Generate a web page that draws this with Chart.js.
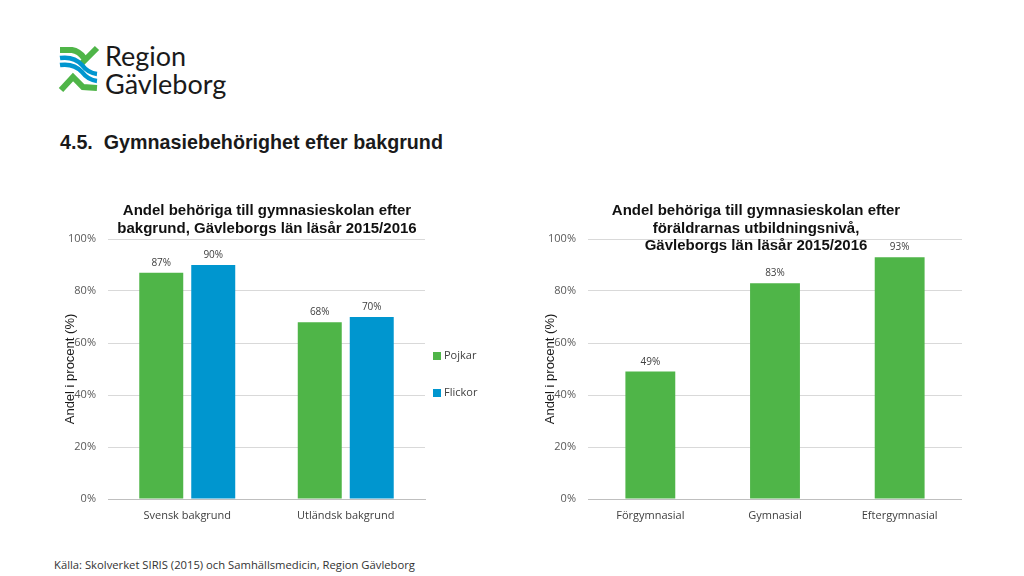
<!DOCTYPE html>
<html>
<head>
<meta charset="utf-8">
<script src="https://cdn.jsdelivr.net/npm/chart.js@4"></script>
<style>
html, body { margin: 0; padding: 0; background: #fff; width: 1024px; height: 576px; overflow: hidden; }
canvas, .txt, svg { position: absolute; }
.txt { white-space: nowrap; color: #1a1a1a; }
.title { font: bold 15px/17.5px "Liberation Sans", sans-serif; text-align: center; transform: translateX(-50%); color: #111; }
</style>
</head>
<body>
<svg style="left:0;top:0" width="110" height="110" fill="none">
	<path d="M60 50 L72 50 Q79 51 84 58 M82 63 L97 48" stroke="#4fb548" stroke-width="6"/>
	<path d="M60 58 Q74 56 82 65 Q88 73 97 74" stroke="#0096cf" stroke-width="4.5"/>
	<path d="M60 65 Q74 63 82 72 Q88 80 97 81" stroke="#0096cf" stroke-width="4.5"/>
	<path d="M61 90 L73 77 L83 87 L97 88" stroke="#4fb548" stroke-width="6"/>
</svg>
<div class="txt" style="left:105px;top:41px;font:27px/30px Lato,sans-serif">Region</div>
<div class="txt" style="left:105px;top:69px;font:27px/30px Lato,sans-serif">Gävleborg</div>
<div class="txt" style="left:60px;top:131px;font:bold 19.7px/22px 'Liberation Sans',sans-serif">4.5.&nbsp; Gymnasiebehörighet efter bakgrund</div>
<canvas id="chartBakgrund" width="422" height="350" style="left:58px;top:190px"></canvas>
<canvas id="chartUtbildning" width="424" height="350" style="left:538px;top:190px"></canvas>
<div class="txt title" style="left:267px;top:201px">Andel behöriga till gymnasieskolan efter<br>bakgrund, Gävleborgs län läsår 2015/2016</div>
<div class="txt title" style="left:756px;top:201px">Andel behöriga till gymnasieskolan efter<br>föräldrarnas utbildningsnivå,<br>Gävleborgs län läsår 2015/2016</div>
<div class="txt" style="left:54px;top:557px;font:11.25px/16px 'Open Sans',sans-serif;color:#333">Källa: Skolverket SIRIS (2015) och Samhällsmedicin, Region Gävleborg</div>
<script>
// values
const bakgrundLabels = ["Svensk bakgrund", "Utländsk bakgrund"];
const pojkar = [87, 68];
const flickor = [90, 70];

const utbildningLabels = ["Förgymnasial", "Gymnasial", "Eftergymnasial"];
const utbildning = [49, 83, 93];

const yTicks = [0, 20, 40, 60, 80, 100];

const green = "#4fb548";
const blue = "#0096cf";
const tickFont = { family: "'Open Sans', sans-serif", size: 11 };

Chart.defaults.animation = false;
Chart.defaults.responsive = false;

// percent labels above the bars
const barLabels = {
	id: "barLabels",
	afterDatasetsDraw(chart) {
		let ctx = chart.ctx;
		ctx.save();
		ctx.fillStyle = "#404040";
		ctx.font = "10px 'Open Sans', sans-serif";
		ctx.textAlign = "center";
		chart.data.datasets.forEach(function(ds, i) {
			chart.getDatasetMeta(i).data.forEach(function(bar, j) {
				ctx.fillText(ds.data[j] + "%", bar.x, bar.y - 7);
			});
		});
		ctx.restore();
	}
};

// built-in legend ties row spacing to its left padding, so draw it here
const wideLegend = {
	id: "wideLegend",
	afterDraw(chart) {
		let ctx = chart.ctx;
		let area = chart.chartArea;
		ctx.save();
		ctx.font = "11px 'Open Sans', sans-serif";
		ctx.textBaseline = "middle";
		chart.data.datasets.forEach(function(ds, i) {
			let y = area.top + 117 + i * 37;
			ctx.fillStyle = ds.backgroundColor;
			ctx.fillRect(area.right + 8, y - 4, 8, 8);
			ctx.fillStyle = "#404040";
			ctx.fillText(ds.label, area.right + 19, y);
		});
		ctx.restore();
	}
};

function buildScales(xHeight) {
	return {
		x: {
			grid: { display: false },
			border: { color: "#bfbfbf" },
			ticks: { color: "#404040", font: tickFont, padding: 2, maxRotation: 0 },
			afterFit: function(scale) { scale.height = xHeight; }
		},
		y: {
			min: 0,
			max: 100,
			afterBuildTicks: function(scale) { scale.ticks = yTicks.map(v => ({ value: v })); },
			grid: { color: "#d9d9d9", drawTicks: false },
			border: { display: false },
			ticks: { color: "#595959", font: tickFont, padding: 12, callback: v => v + "%" },
			title: { display: true, text: "Andel i procent (%)", color: "#1a1a1a", padding: { top: 5, bottom: 0 },
				font: { family: "'Liberation Sans', sans-serif", size: 13 } },
			afterFit: function(scale) { scale.width = 50; }
		}
	};
}

new Chart(document.getElementById("chartBakgrund"), {
	type: "bar",
	plugins: [barLabels, wideLegend],
	data: {
		labels: bakgrundLabels,
		datasets: [
			{ label: "Pojkar", data: pojkar, backgroundColor: green, categoryPercentage: 0.656, barPercentage: 0.846 },
			{ label: "Flickor", data: flickor, backgroundColor: blue, categoryPercentage: 0.656, barPercentage: 0.846 }
		]
	},
	options: {
		layout: { padding: { top: 49, right: 55 } },
		scales: buildScales(41),
		plugins: {
			legend: { display: false },
			tooltip: { enabled: false }
		}
	}
});

new Chart(document.getElementById("chartUtbildning"), {
	type: "bar",
	plugins: [barLabels],
	data: {
		labels: utbildningLabels,
		datasets: [
			{ label: "Andel", data: utbildning, backgroundColor: green, categoryPercentage: 0.4, barPercentage: 1 }
		]
	},
	options: {
		layout: { padding: { top: 49 } },
		scales: buildScales(41),
		plugins: {
			legend: { display: false },
			tooltip: { enabled: false }
		}
	}
});
</script>
</body>
</html>
